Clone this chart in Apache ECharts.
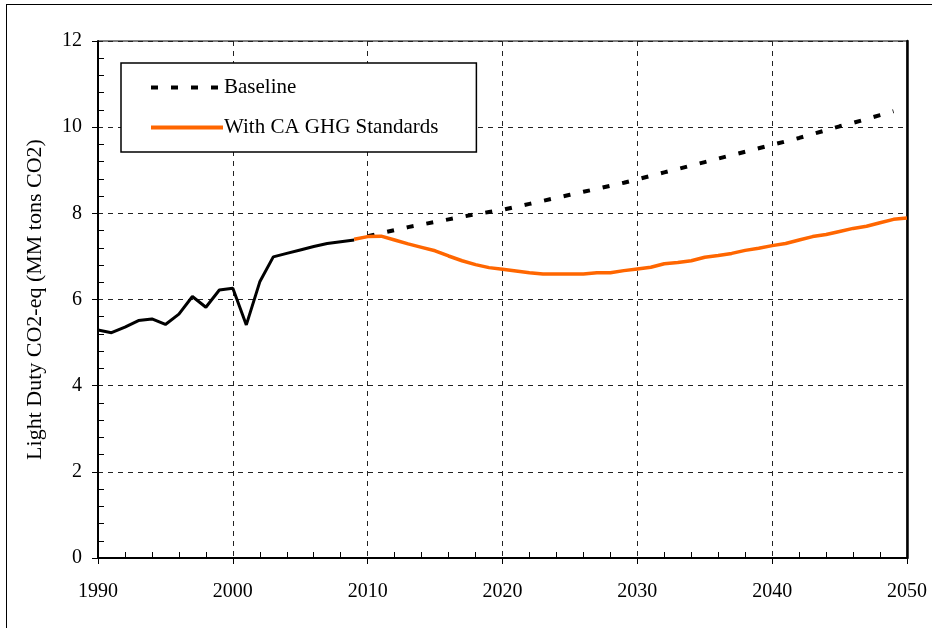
<!DOCTYPE html>
<html>
<head>
<meta charset="utf-8">
<title>Light Duty CO2-eq</title>
<script src="https://cdn.jsdelivr.net/npm/echarts@6/dist/echarts.min.js"></script>
<style>
	html, body { margin: 0; padding: 0; background: #fff; }
	#frame { position: absolute; left: 6px; top: 4px; width: 940px; height: 640px; border-left: 1.5px solid #000; border-top: 1.5px solid #000; }
	#chart { position: absolute; left: 0; top: 0; width: 932px; height: 628px; }
</style>
</head>
<body>
<div id="frame"></div>
<div id="chart"></div>
<script>
	// historical
	var histYears = [1990, 1991, 1992, 1993, 1994, 1995, 1996, 1997, 1998, 1999, 2000, 2001, 2002, 2003, 2004, 2005, 2006, 2007, 2008, 2009];
	var histValues = [5.29, 5.23, 5.36, 5.51, 5.55, 5.42, 5.66, 6.07, 5.82, 6.22, 6.26, 5.41, 6.41, 6.99, 7.07, 7.15, 7.23, 7.30, 7.34, 7.38];

	// Baseline
	var baseYears = [2010, 2011, 2012, 2013, 2014, 2015, 2016, 2017, 2018, 2019, 2020, 2021, 2022, 2023, 2024, 2025, 2026, 2027, 2028, 2029,
		2030, 2031, 2032, 2033, 2034, 2035, 2036, 2037, 2038, 2039, 2040, 2041, 2042, 2043, 2044, 2045, 2046, 2047, 2048, 2049];
	var baseValues = [7.47, 7.54, 7.61, 7.68, 7.74, 7.80, 7.86, 7.92, 7.98, 8.03, 8.08, 8.15, 8.22, 8.29, 8.36, 8.43, 8.50, 8.57, 8.64, 8.71,
		8.79, 8.87, 8.95, 9.03, 9.11, 9.19, 9.27, 9.35, 9.43, 9.51, 9.59, 9.67, 9.75, 9.84, 9.93, 10.02, 10.10, 10.19, 10.28, 10.37];

	// With CA GHG Standards
	var caYears = [2009, 2010, 2011, 2012, 2013, 2014, 2015, 2016, 2017, 2018, 2019, 2020, 2021, 2022, 2023, 2024, 2025, 2026, 2027, 2028, 2029,
		2030, 2031, 2032, 2033, 2034, 2035, 2036, 2037, 2038, 2039, 2040, 2041, 2042, 2043, 2044, 2045, 2046, 2047, 2048, 2049, 2050];
	var caValues = [7.40, 7.46, 7.47, 7.38, 7.29, 7.21, 7.13, 7.01, 6.90, 6.81, 6.74, 6.70, 6.66, 6.62, 6.59, 6.59, 6.59, 6.59, 6.62, 6.62, 6.67,
		6.71, 6.75, 6.83, 6.86, 6.90, 6.98, 7.02, 7.07, 7.14, 7.19, 7.25, 7.30, 7.38, 7.46, 7.51, 7.58, 7.65, 7.70, 7.78, 7.86, 7.89];

	var seriesNames = ['Baseline', 'With CA GHG Standards'];
	var yTitle = 'Light Duty CO2-eq (MM tons CO2)';

	function pairs(xs, ys) {
		var out = [];
		for (var i = 0; i < xs.length; i++) {
			out.push([xs[i], ys[i]]);
		}
		return out;
	}

	var font = 'Liberation Serif';
	var gridLine = { show: true, lineStyle: { color: '#222', type: [5, 5], width: 1 } };

	var myChart = echarts.init(document.getElementById('chart'), null, { renderer: 'canvas' });

	var option = {
		animation: false,
		backgroundColor: 'transparent',
		grid: {
			left: 98,
			right: 25,
			top: 41,
			bottom: 70,
			show: true,
			borderColor: '#000',
			borderWidth: 1
		},
		legend: {
			data: seriesNames,
			orient: 'vertical',
			left: 121,
			top: 63,
			padding: [14, 38, 14, 28],
			itemGap: 19,
			itemWidth: 72,
			itemHeight: 22,
			backgroundColor: '#fff',
			borderColor: '#000',
			borderWidth: 1.5,
			borderRadius: 0,
			itemStyle: { opacity: 0 },
			lineStyle: { width: 4 },
			textStyle: { fontFamily: font, fontSize: 21, color: '#000', padding: [0, 0, 0, -4] }
		},
		xAxis: {
			type: 'value',
			min: 1990,
			max: 2050,
			interval: 10,
			axisLine: { show: true, onZero: false, lineStyle: { color: '#000', width: 2 } },
			axisTick: { show: true, length: 6, lineStyle: { color: '#000', width: 1 } },
			minorTick: { show: true, splitNumber: 5, length: -6, lineStyle: { color: '#000', width: 1 } },
			axisLabel: {
				fontFamily: font, fontSize: 20, color: '#000', margin: 24,
				formatter: function(v) { return String(v); }
			},
			splitLine: gridLine
		},
		yAxis: [{
			type: 'value',
			min: 0,
			max: 12,
			interval: 2,
			name: yTitle,
			nameLocation: 'middle',
			nameGap: 52,
			nameTextStyle: { fontFamily: font, fontSize: 22, color: '#000' },
			axisLine: { show: true, lineStyle: { color: '#000', width: 2 } },
			axisTick: { show: true, length: 6, lineStyle: { color: '#000', width: 1 } },
			minorTick: { show: true, splitNumber: 5, length: -6, lineStyle: { color: '#000', width: 1 } },
			axisLabel: { fontFamily: font, fontSize: 20, color: '#000', margin: 16 },
			splitLine: gridLine
		}, {
			type: 'value',
			position: 'right',
			min: 0,
			max: 12,
			interval: 2,
			axisLine: { show: true, lineStyle: { color: '#000', width: 2.5 } },
			axisTick: { show: false },
			axisLabel: { show: false },
			splitLine: { show: false }
		}],
		series: [{
			name: 'historical',
			type: 'line',
			data: pairs(histYears, histValues),
			showSymbol: false,
			symbol: 'none',
			lineStyle: { color: '#000', width: 3 },
			itemStyle: { color: '#000' },
			z: 3
		}, {
			name: seriesNames[0],
			type: 'line',
			data: pairs(baseYears, baseValues),
			showSymbol: false,
			symbol: 'none',
			lineStyle: { color: '#000', width: 4, type: [7, 13] },
			itemStyle: { color: '#000' },
			z: 2
		}, {
			name: seriesNames[1],
			type: 'line',
			data: pairs(caYears, caValues),
			showSymbol: false,
			symbol: 'none',
			lineStyle: { color: '#FF6600', width: 3.5 },
			itemStyle: { color: '#FF6600' },
			z: 4
		}]
	};

	myChart.setOption(option);
</script>
</body>
</html>
